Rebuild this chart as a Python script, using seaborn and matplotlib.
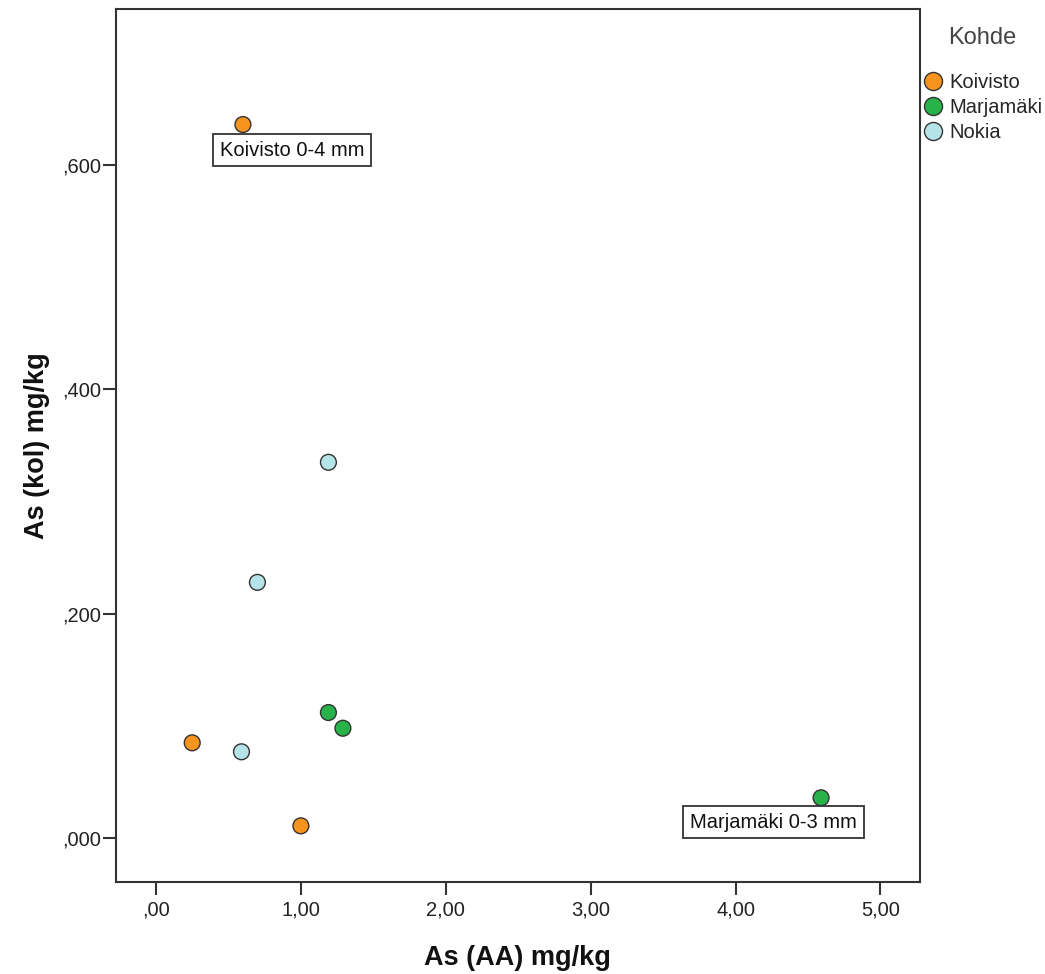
import matplotlib
matplotlib.use("Agg")
import matplotlib.pyplot as plt
import seaborn as sns
import pandas as pd

site = ["Koivisto", "Koivisto", "Koivisto",
        "Marjamäki", "Marjamäki", "Marjamäki",
        "Nokia", "Nokia", "Nokia"]
as_aa = [0.60, 0.25, 1.00, 1.19, 1.29, 4.59, 1.19, 0.70, 0.59]
as_kol = [0.636, 0.085, 0.011, 0.112, 0.098, 0.036, 0.335, 0.228, 0.077]
labels = ["Koivisto 0-4 mm", "", "", "", "", "Marjamäki 0-3 mm", "", "", ""]
categories = ["Koivisto", "Marjamäki", "Nokia"]
colors = ["#F7941E", "#27B34A", "#B4E4E8"]
xticks = [0, 1, 2, 3, 4, 5]
xticklabels = [",00", "1,00", "2,00", "3,00", "4,00", "5,00"]
yticks = [0.0, 0.2, 0.4, 0.6]
yticklabels = [",000", ",200", ",400", ",600"]

df = pd.DataFrame({"Kohde": site, "x": as_aa, "y": as_kol, "label": labels})

sns.set_style("white")
plt.rcParams["font.family"] = ["Liberation Sans", "DejaVu Sans"]
fig = plt.figure(figsize=(10.45, 9.74), dpi=100)
ax = fig.add_axes([0.111, 0.0945, 0.769, 0.8963])

sns.scatterplot(data=df, x="x", y="y", hue="Kohde", hue_order=categories,
                palette=dict(zip(categories, colors)), s=130,
                edgecolor="#333333", linewidth=1.0, ax=ax, legend=False, zorder=3)

ax.set_xlim(-0.276, 5.27)
ax.set_ylim(-0.039, 0.739)
ax.set_xticks(xticks)
ax.set_xticklabels(xticklabels)
ax.set_yticks(yticks)
ax.set_yticklabels(yticklabels)
ax.tick_params(axis="both", which="major", bottom=True, left=True, top=False, right=False,
               direction="out", length=9.5, width=1.5, color="#333333",
               labelsize=14.5, labelcolor="#222222", pad=1.5)
ax.tick_params(axis="x", pad=4)
for sp in ax.spines.values():
    sp.set_visible(True)
    sp.set_color("#333333")
    sp.set_linewidth(1.5)

ax.set_xlabel("As (AA) mg/kg", fontsize=19.5, fontweight="bold", color="#111111")
ax.set_ylabel("As (kol) mg/kg", fontsize=19.5, fontweight="bold", color="#111111")
ax.xaxis.label.set_va("center")
ax.yaxis.label.set_va("center")
ax.yaxis.label.set_ha("center")
ax.xaxis.set_label_coords(0.5, -0.0875)
ax.yaxis.set_label_coords(-0.098, 0.5)

# annotation labels (offsets in pixels relative to the point)
offsets = {"Koivisto 0-4 mm": (-23, -16), "Marjamäki 0-3 mm": (-131, -15)}
for _, r in df[df["label"] != ""].iterrows():
    dx, dy = offsets[r["label"]]
    ax.annotate(r["label"], (r["x"], r["y"]), xytext=(dx, dy), textcoords="offset pixels",
                ha="left", va="top", fontsize=14.5, color="#111111",
                bbox=dict(boxstyle="square,pad=0.33", fc="white", ec="#333333", lw=1.3))

handles = [plt.Line2D([0], [0], marker="o", linestyle="", markersize=13,
                      markerfacecolor=c, markeredgecolor="#333333", markeredgewidth=1.0)
           for c in colors]
leg = fig.legend(handles, categories, title="Kohde", loc="upper left",
                 bbox_to_anchor=(0.883, 0.972), frameon=False, fontsize=14.5,
                 title_fontsize=17, handletextpad=0.3, labelspacing=0.3,
                 handlelength=1.0, borderaxespad=0, borderpad=0)
leg.get_title().set_color("#444444")
leg._legend_box.sep = 17

fig.savefig("out.png", dpi=100)
